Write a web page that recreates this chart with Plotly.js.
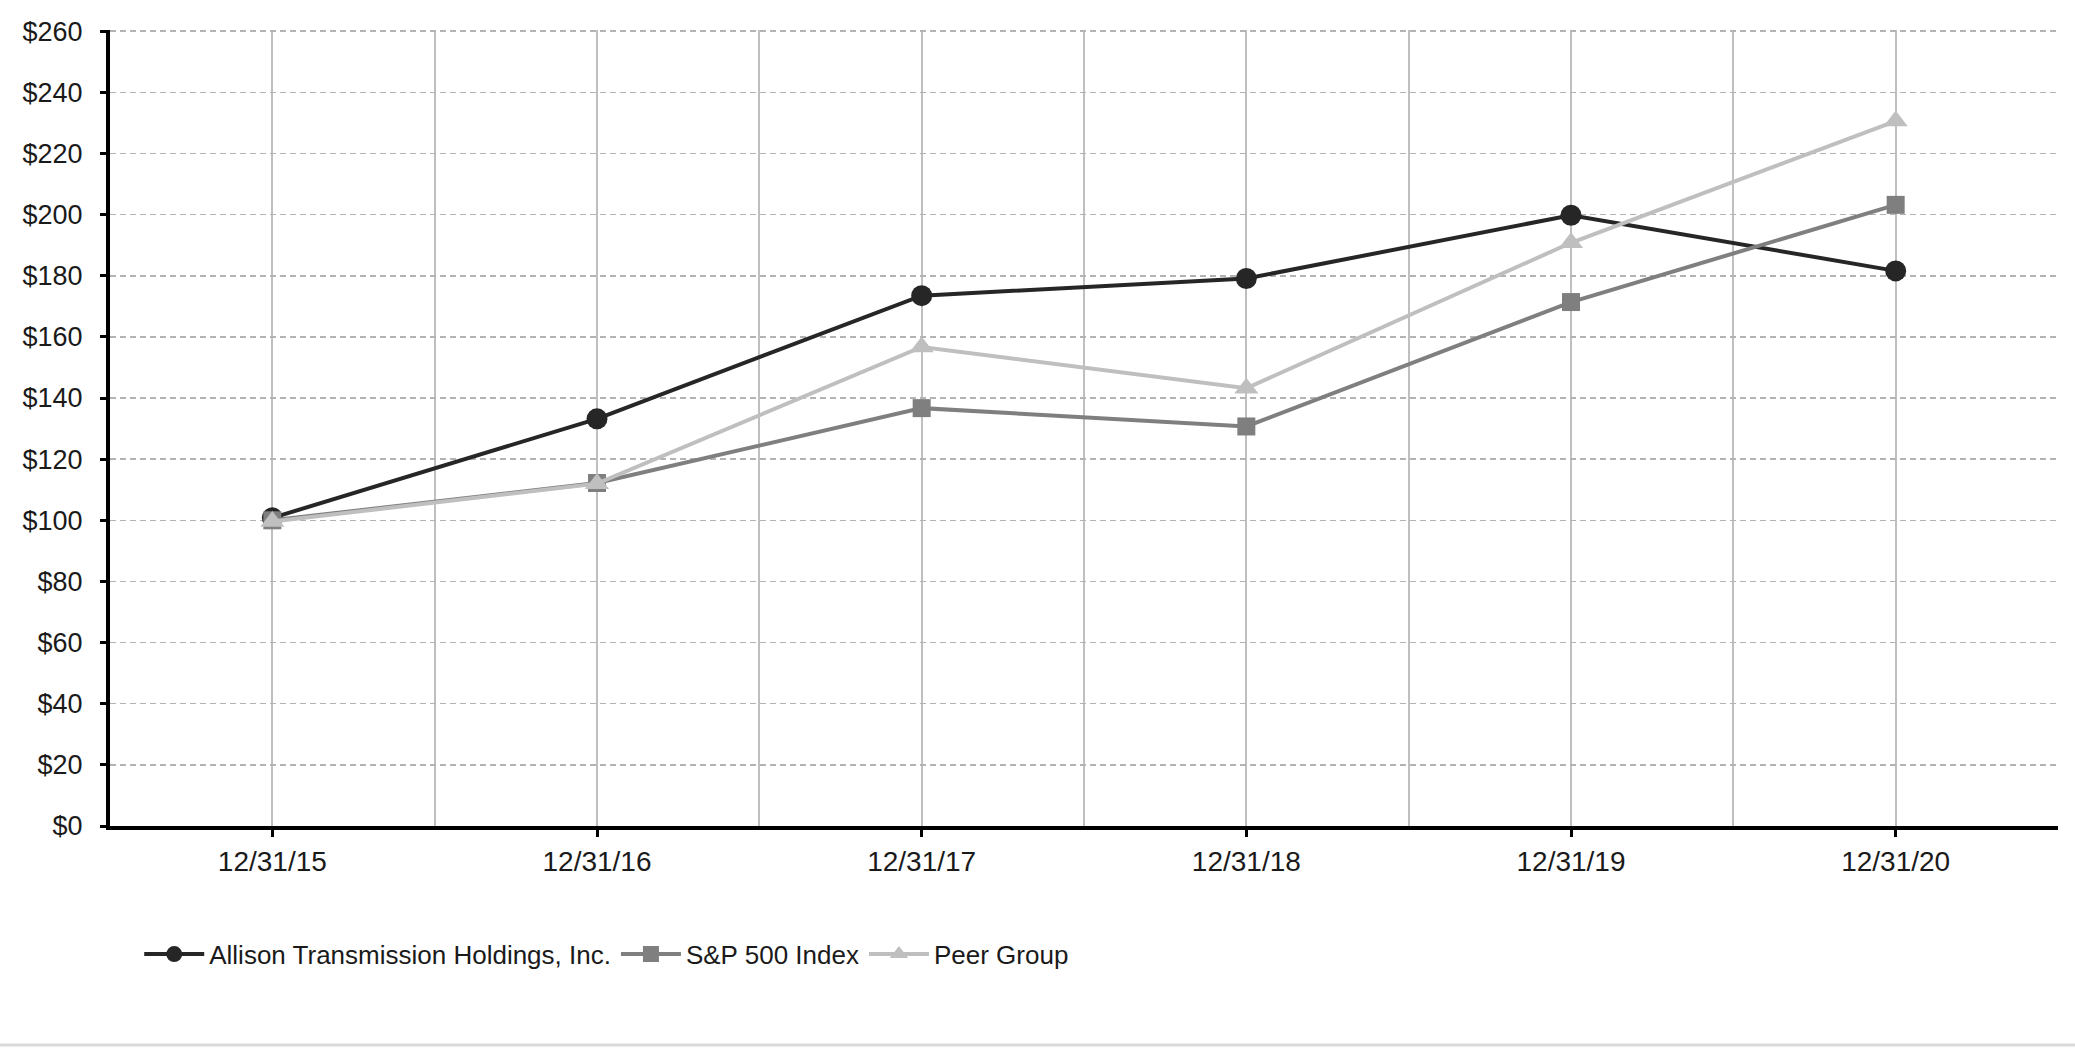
<!DOCTYPE html>
<html>
<head>
<meta charset="utf-8">
<script src="https://cdn.plot.ly/plotly-3.0.1.min.js"></script>
<style>
  html, body { margin: 0; padding: 0; background: #ffffff; }
  #chart { width: 2075px; height: 1050px; }
</style>
</head>
<body>
<div id="chart"></div>
<script>
// ---- data ----
const categories = ['12/31/15', '12/31/16', '12/31/17', '12/31/18', '12/31/19', '12/31/20'];
const allison = [100.8, 133.2, 173.5, 179.1, 199.8, 181.6];
const sp500   = [100, 112.2, 136.7, 130.7, 171.4, 203.2];
const peer    = [99.6, 112.0, 156.7, 143.2, 190.8, 230.6];
const seriesNames = ['Allison Transmission Holdings, Inc.', 'S&P 500 Index', 'Peer Group'];
const yTickValues = [0, 20, 40, 60, 80, 100, 120, 140, 160, 180, 200, 220, 240, 260];
const yTickLabels = ['$0', '$20', '$40', '$60', '$80', '$100', '$120', '$140', '$160', '$180', '$200', '$220', '$240', '$260'];

const xIdx = categories.map((c, i) => i);

const traces = [
  {
    x: xIdx, y: allison, name: seriesNames[0], type: 'scatter', mode: 'lines+markers',
    line: { color: '#262626', width: 4 },
    marker: { symbol: 'circle', size: 21, color: '#262626' }
  },
  {
    x: xIdx, y: sp500, name: seriesNames[1], type: 'scatter', mode: 'lines+markers',
    line: { color: '#7f7f7f', width: 4 },
    marker: { symbol: 'square', size: 18, color: '#7f7f7f' }
  },
  {
    x: xIdx, y: peer, name: seriesNames[2], type: 'scatter', mode: 'lines+markers',
    line: { color: '#bfbfbf', width: 4 },
    marker: { symbol: 'triangle-up', size: 21, color: '#bfbfbf' }
  }
];

const layout = {
  width: 2075, height: 1050,
  margin: { l: 110, r: 17, t: 30, b: 224 },
  paper_bgcolor: '#ffffff', plot_bgcolor: '#ffffff',
  showlegend: true,
  font: { family: 'Liberation Sans, Arial, sans-serif', color: '#1a1a1a' },
  xaxis: {
    type: 'linear',
    range: [-0.5, 5.5],
    tickvals: xIdx,
    ticktext: categories,
    showgrid: true, gridcolor: '#bfbfbf', gridwidth: 2,
    minor: { tick0: -0.5, dtick: 1, showgrid: true, gridcolor: '#bfbfbf', gridwidth: 2, ticks: '' },
    zeroline: false,
    showline: true, linecolor: '#000000', linewidth: 4,
    ticks: 'outside', ticklen: 7, tickwidth: 3, tickcolor: '#000000',
    tickfont: { family: 'Liberation Sans, Arial, sans-serif', size: 28, color: '#1a1a1a' },
    ticklabelstandoff: 0,
    fixedrange: true
  },
  yaxis: {
    range: [0, 260.4],
    tickmode: 'array',
    tickvals: yTickValues,
    ticktext: yTickLabels,
    showgrid: true, gridcolor: '#b3b3b3', gridwidth: 1.5, griddash: '6px,4px',
    zeroline: false,
    showline: true, linecolor: '#000000', linewidth: 4,
    ticks: 'outside', ticklen: 6, tickwidth: 3, tickcolor: '#000000',
    tickfont: { family: 'Liberation Sans, Arial, sans-serif', size: 27, color: '#1a1a1a' },
    ticklabelstandoff: 12,
    fixedrange: true
  },
  legend: {
    orientation: 'h',
    x: 0.015, xanchor: 'left',
    y: -0.161, yanchor: 'middle',
    font: { family: 'Liberation Sans, Arial, sans-serif', size: 26, color: '#1a1a1a' },
    itemwidth: 60,
    tracegroupgap: 0,
    bgcolor: 'rgba(0,0,0,0)'
  },
  shapes: [
    {
      type: 'line', xref: 'paper', yref: 'paper',
      x0: -0.06, x1: 1.01, y0: -0.275, y1: -0.275,
      line: { color: '#d9d9d9', width: 3 }
    }
  ]
};

Plotly.newPlot('chart', traces, layout, { displayModeBar: false, staticPlot: true });
</script>
</body>
</html>
